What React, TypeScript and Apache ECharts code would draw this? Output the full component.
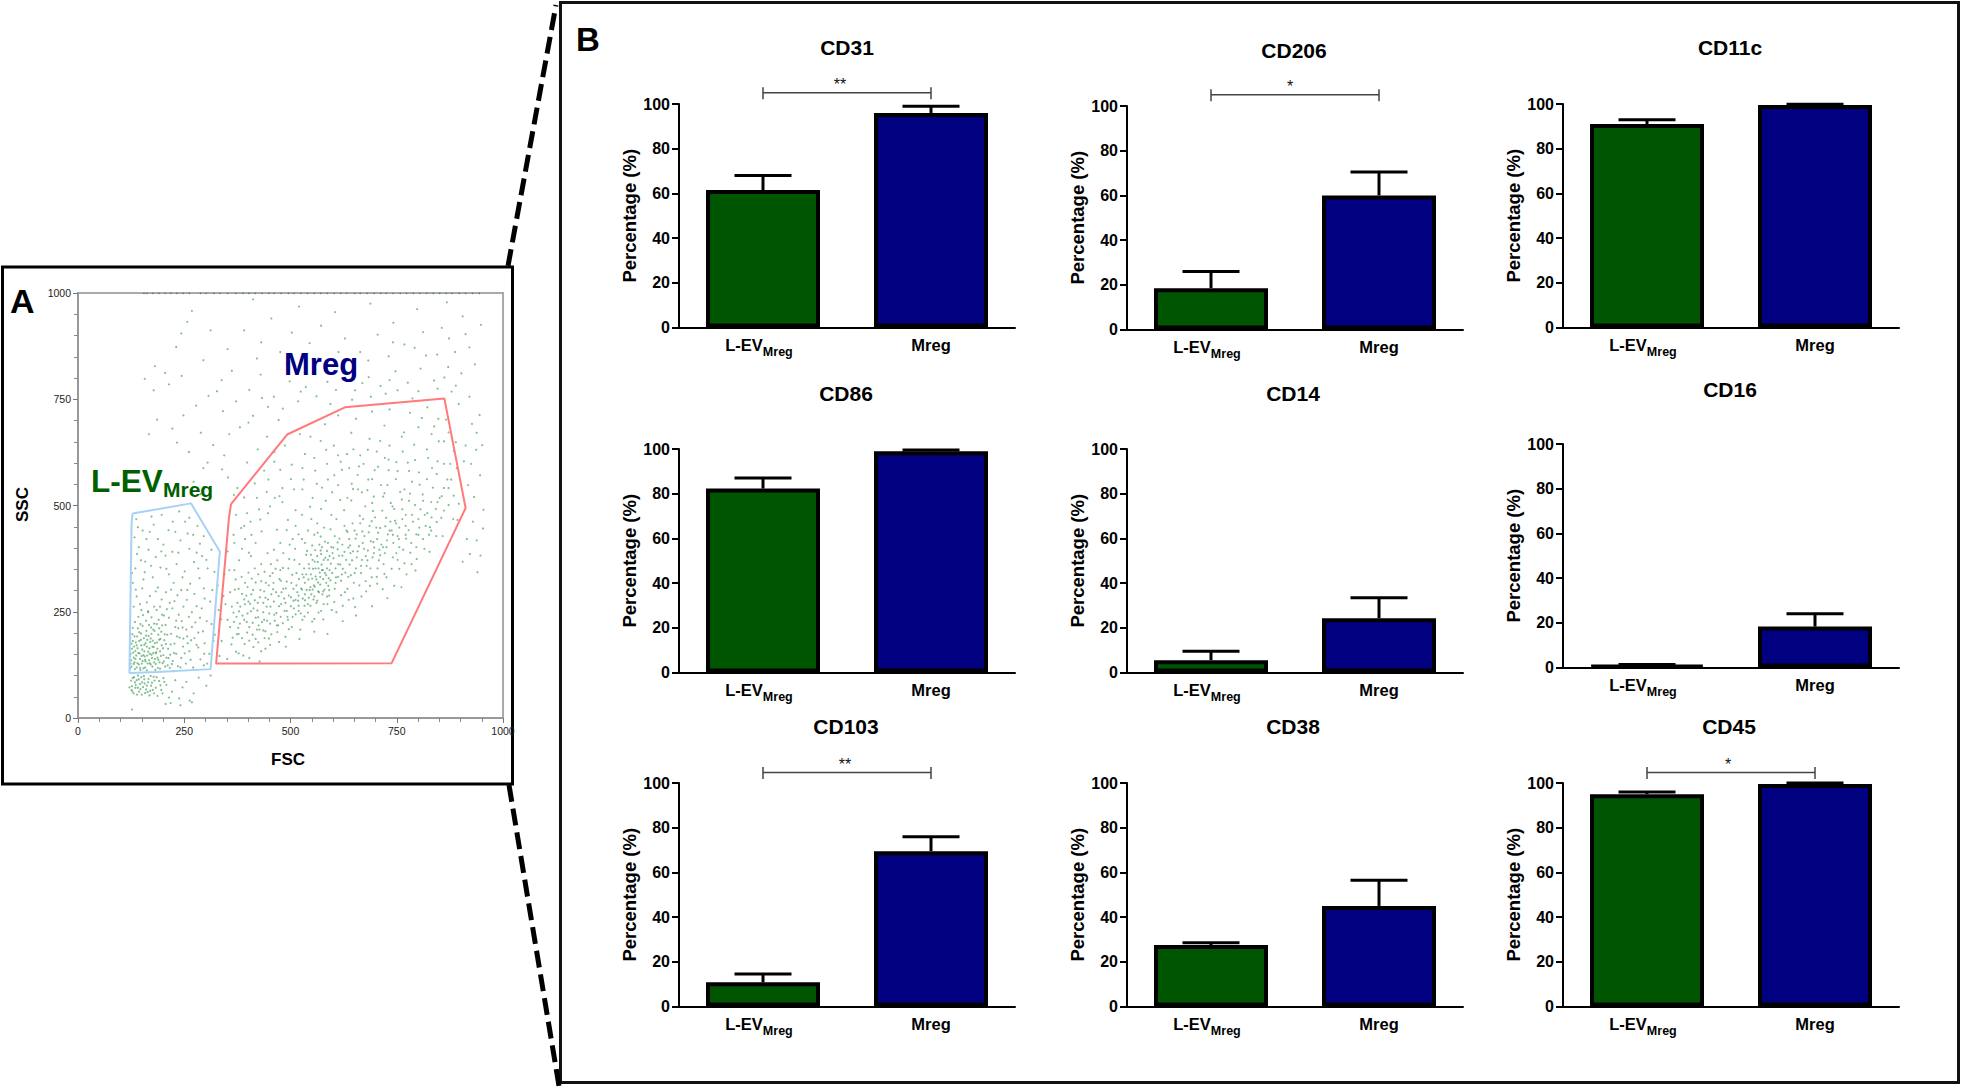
import React, { useEffect, useRef } from "react";
import * as echarts from "echarts";

// ---- Panel B values ----
const categories = ["L-EVMreg", "Mreg"];
const markers = ["CD31", "CD206", "CD11c", "CD86", "CD14", "CD16", "CD103", "CD38", "CD45"];
const levMeans = [61.5, 18.5, 91, 82.3, 5.5, 1, 10.8, 27.5, 95];
const levUpper = [68, 26, 93, 87, 9.5, 1.3, 14.5, 28.5, 96];
const mregMeans = [96, 60, 99.5, 99, 24.3, 18.3, 69.5, 45, 99.5];
const mregUpper = [99, 70.5, 99.9, 99.6, 33.5, 24, 76, 56.5, 100];
const significance = ["**", "*", "", "", "", "", "**", "", "*"];
const bracketLevels = [105, 105, 0, 0, 0, 0, 104.7, 0, 104.7];

// ---- Panel A: gates and a hand-read sample of the dots (FSC, SSC) ----
const mregGate = [[360,503],[492,667],[628,731],[862,752],[912,494],[738,129],[325,128],[355,469],[360,503]];
const levGate = [[128,481],[266,505],[334,391],[332,371],[312,115],[185,108],[121,106],[126,458],[128,481]];

const topBandDots = [[155,999],[162,999],[176,999],[190,999],[205,999],[218,999],[232,999],[247,999],[262,999],[288,999],[301,999],[320,999],[334,999],[352,999],[371,999],[388,999],[402,999],[417,999],[433,999],[449,999],[461,999],[478,999],[495,999],[508,999],[524,999],[540,999],[556,999],[571,999],[586,999],[603,999],[618,999],[632,999],[651,999],[664,999],[680,999],[697,999],[712,999],[725,999],[741,999],[758,999],[773,999],[789,999],[804,999],[820,999],[836,999],[851,999],[866,999],[880,999],[897,999],[912,999],[928,999],[944,999]];

const upperDots = [[268,958],[243,905],[231,873],[257,932],[412,985],[312,912],[455,940],[520,968],[605,955],[688,975],[742,930],[798,962],[868,978],[905,945],[948,925],[157,798],[181,828],[205,812],[178,771],[214,785],[244,805],[295,842],[338,795],[352,868],[391,912],[431,884],[476,861],[503,907],[545,882],[572,923],[628,893],[664,861],[705,902],[731,851],[768,879],[812,908],[845,855],[873,893],[921,872],[934,832],[902,811],[871,826],[838,794],[806,822],[776,789],[747,816],[712,781],[684,802],[652,771],[621,823],[587,791],[553,812],[524,768],[498,792],[461,756],[430,808],[403,772],[372,745],[341,722],[307,758],[278,735],[248,712],[222,681],[186,702],[167,668],[233,648],[261,626],[289,671],[318,642],[305,601],[344,618],[381,684],[412,711],[447,732],[472,701],[518,745],[561,757],[594,739],[645,749],[689,756],[724,763],[752,771],[801,769],[846,775],[889,782],[921,756],[945,713],[938,671],[912,641],[951,642],[925,598],[946,571],[918,548],[932,520],[954,490],[929,462],[938,418],[947,382],[922,386],[915,421],[940,343],[905,368],[288,527],[272,556],[353,566],[339,585],[295,588],[398,601],[375,541],[367,525],[423,632],[445,662],[462,603],[819,853],[887,861],[792,871],[912,903],[856,918],[741,884],[683,841],[613,861],[566,846],[492,833],[421,846],[362,817],[327,769],[433,753],[401,695],[356,668],[482,728],[536,779],[607,772],[669,788],[733,795],[787,752],[862,801],[896,739],[927,692],[908,604],[937,631],[879,768],[953,446]];

const lowClusterDots = [[124,128],[131,142],[127,163],[138,119],[145,152],[136,178],[128,197],[141,211],[152,134],[149,171],[158,119],[155,188],[163,147],[161,205],[171,126],[168,164],[176,182],[174,141],[182,113],[184,155],[189,196],[192,131],[197,171],[201,148],[205,121],[124,151],[126,175],[133,131],[135,158],[139,192],[143,126],[146,139],[148,199],[151,161],[154,117],[157,145],[159,176],[164,128],[166,193],[169,151],[172,213],[175,121],[178,167],[181,139],[186,178],[188,118],[193,157],[196,203],[199,129],[203,183],[208,142],[212,163],[216,118],[219,198],[223,134],[227,175],[231,151],[235,122],[239,189],[243,141],[247,168],[123,189],[129,212],[134,226],[142,238],[147,221],[153,242],[160,229],[165,251],[173,237],[179,222],[185,254],[190,231],[198,243],[206,219],[214,236],[222,258],[229,214],[237,243],[125,136],[130,154],[137,147],[140,164],[144,181],[150,146],[156,157],[162,168],[167,136],[170,179],[177,153],[183,127],[187,142],[194,186],[200,164],[126,121],[132,168],[134,115],[147,113],[159,133],[163,184],[173,198],[180,205],[191,211],[204,197],[211,124],[217,149],[225,110],[254,128],[262,157],[271,119],[279,172],[288,138],[296,124],[257,192],[268,214],[283,201],[298,176],[121,72],[125,88],[128,62],[132,96],[136,78],[139,55],[143,91],[147,68],[151,84],[155,99],[158,59],[162,76],[166,92],[170,64],[174,83],[178,97],[183,71],[187,52],[191,87],[196,66],[201,94],[208,78],[214,48],[221,62],[229,89],[238,46],[246,72],[255,85],[263,41],[272,58],[127,75],[134,84],[141,71],[149,96],[157,81],[164,61],[171,99],[179,58],[206,33],[218,35],[241,30],[127,20],[268,37],[284,95],[302,76],[312,100],[122,146],[123,117],[129,181],[131,127],[133,192],[135,139],[138,171],[140,129],[142,153],[144,202],[146,118],[148,184],[150,128],[152,217],[154,148],[156,172],[158,137],[160,194],[162,112],[165,156],[167,219],[169,129],[171,187],[173,149],[175,168],[177,208],[179,131],[181,176],[183,152],[185,221],[187,163],[189,137],[191,184],[193,116],[195,146],[198,218],[202,133],[207,174],[210,196],[213,141],[218,173],[221,127],[226,153],[233,192],[241,119],[246,213],[251,152],[258,176],[265,137],[274,188],[126,66],[129,94],[131,58],[135,71],[138,89],[141,100],[144,62],[146,80],[150,55],[153,73],[156,91],[160,67],[165,84],[168,53],[172,76],[176,66],[180,88],[185,96],[194,77],[199,58],[203,85]];

const levUpperDots = [[137,468],[152,441],[143,402],[161,421],[178,455],[197,478],[213,442],[238,486],[252,462],[271,431],[287,410],[262,398],[241,418],[222,391],[201,408],[183,379],[166,396],[148,371],[135,352],[157,343],[176,331],[194,354],[214,338],[232,362],[251,345],[273,367],[292,381],[305,352],[286,329],[264,316],[243,301],[225,318],[207,296],[188,307],[169,287],[151,305],[138,286],[131,262],[146,268],[162,272],[179,262],[197,279],[216,271],[234,289],[256,278],[274,292],[296,305],[311,274],[291,258],[268,249],[248,262],[227,275],[209,256],[321,344],[316,301],[303,228],[287,236],[319,182],[309,151],[276,225],[261,238],[133,425],[129,318],[173,474],[206,382],[329,312],[331,254],[258,434],[281,452],[223,462],[141,449],[169,438],[188,421],[229,438],[262,471],[296,428],[314,396],[139,386],[158,368],[196,392],[236,389],[279,389],[302,372],[127,341],[172,358],[208,351],[246,331],[283,352],[154,326],[183,298],[219,302],[257,301],[298,281],[136,302],[165,249],[202,241],[244,228],[279,263],[314,221],[322,196],[294,204],[255,208],[231,229],[193,262],[149,254],[297,151],[304,128],[283,166],[266,183],[248,187],[236,211]];

const mregEdgeDots = [[372,478],[391,519],[416,552],[438,582],[462,626],[487,641],[522,668],[547,662],[581,691],[612,712],[654,704],[692,721],[733,726],[781,718],[822,731],[848,704],[872,672],[884,628],[861,651],[832,668],[801,684],[762,662],[721,688],[686,657],[643,671],[602,641],[571,652],[534,621],[503,596],[476,584],[448,561],[421,518],[398,482],[384,447],[366,431],[352,392],[345,338],[342,287],[337,232],[338,181],[333,146],[351,139],[378,152],[403,141],[431,157],[452,172],[427,133],[489,168],[521,186],[556,203],[587,198],[623,228],[654,241],[692,263],[728,282],[761,308],[794,347],[827,391],[858,428],[883,468],[896,504],[872,541],[891,588],[844,574],[851,518],[832,472],[803,448],[784,412],[812,511],[821,562],[793,607],[764,627],[731,608],[703,627],[672,598],[648,632],[618,603],[586,598],[558,582],[531,561],[508,538],[474,522],[452,498],[429,467],[408,431],[386,398],[368,348],[358,296],[366,248],[378,198],[392,174],[418,186],[441,204],[468,218],[494,231]];

const mregCoreDots = [[382,262],[391,231],[396,288],[403,214],[407,251],[412,301],[418,236],[423,271],[427,208],[431,322],[436,249],[441,283],[445,229],[449,312],[453,262],[458,341],[462,243],[466,296],[471,218],[474,327],[478,268],[482,353],[486,252],[489,305],[493,238],[497,374],[501,284],[504,337],[508,258],[511,398],[514,312],[518,276],[521,362],[524,246],[527,421],[531,331],[534,291],[537,384],[541,268],[544,352],[547,308],[551,406],[554,279],[557,368],[561,326],[564,436],[567,296],[571,394],[574,348],[578,268],[581,415],[584,318],[588,372],[591,288],[594,444],[598,341],[601,401],[604,304],[608,468],[612,362],[615,422],[619,323],[622,382],[626,489],[629,342],[632,441],[636,401],[639,361],[643,512],[646,458],[649,318],[653,422],[656,378],[659,538],[663,476],[666,341],[669,439],[673,398],[676,498],[679,358],[683,561],[686,452],[689,416],[693,378],[696,521],[699,472],[703,332],[706,436],[709,396],[713,548],[716,488],[719,362],[723,451],[727,418],[731,583],[736,506],[741,378],[746,464],[752,428],[758,532],[765,396],[771,478],[778,442],[786,556],[793,501],[801,468],[811,526],[822,482],[835,542],[542,326],[548,338],[553,351],[559,333],[565,319],[569,342],[573,361],[577,327],[552,372],[558,395],[563,381],[568,408],[572,386],[576,348],[582,377],[586,352],[590,329],[595,363],[599,388],[525,305],[529,281],[534,318],[538,301],[543,283],[547,264],[552,302],[556,286],[561,271],[565,298],[570,314],[575,291],[580,302],[584,336],[589,311],[594,324],[532,352],[528,338],[520,327],[516,296],[512,278],[507,304],[501,263],[496,288],[491,321],[485,281],[479,296],[473,263],[467,247],[461,274],[455,291],[450,246],[444,262],[438,298],[433,226],[428,284],[422,253],[416,277],[411,224],[405,269],[399,246],[393,268],[387,241],[381,222],[375,271],[369,302],[373,238],[362,262],[358,214],[364,189],[377,212],[386,188],[398,201],[411,196],[425,218],[439,188],[452,222],[469,202],[482,223],[496,209],[512,244],[528,231],[541,248],[556,233],[572,252],[587,268],[603,273],[619,289],[634,304],[648,281],[662,312],[677,322],[691,331],[705,352],[721,339],[738,351],[752,372],[768,364],[782,389],[796,402],[812,421],[828,449],[844,461],[861,488],[642,336],[628,296],[612,332],[606,352],[614,382],[622,408],[631,372],[638,421],[647,392],[654,352],[661,404],[668,372],[674,428],[682,394],[688,352],[695,414],[702,448],[708,371],[714,408],[722,388],[729,432],[735,462],[742,412],[749,388],[756,448],[763,491],[772,422],[779,511],[788,462],[796,432],[806,491],[818,452],[831,508],[842,492],[856,522],[869,561],[604,428],[596,478],[588,412],[579,448],[572,492],[563,458],[556,431],[549,468],[541,441],[534,412],[527,478],[519,432],[512,452],[505,421],[498,408],[491,442],[483,388],[476,412],[469,371],[461,396],[454,362],[446,388],[439,344],[431,362],[424,338],[416,352],[409,328],[401,342],[393,318],[385,332],[378,304],[371,326],[612,548],[634,518],[658,572],[681,536],[706,591],[728,548],[752,581],[776,601],[802,578],[824,612],[846,604],[598,531],[574,542],[552,518],[588,561],[621,584],[644,551],[668,531],[692,506],[718,521],[744,492],[768,538]];

const mregSpreadDots = [[352,231],[361,173],[347,268],[372,156],[389,147],[356,348],[368,412],[379,371],[391,452],[402,389],[413,167],[399,308],[418,412],[424,178],[432,439],[407,381],[441,163],[447,482],[455,197],[460,318],[438,231],[473,179],[468,443],[481,508],[476,348],[488,191],[494,466],[503,214],[509,372],[512,489],[523,208],[519,252],[528,538],[533,239],[539,393],[546,497],[551,227],[557,309],[562,551],[566,248],[571,427],[577,232],[583,511],[586,286],[592,381],[597,254],[603,571],[608,249],[611,397],[617,513],[623,264],[627,452],[633,621],[637,278],[641,388],[647,539],[652,261],[656,432],[661,592],[667,286],[671,468],[678,298],[682,631],[687,311],[694,487],[698,583],[704,316],[711,652],[717,303],[721,529],[726,331],[733,641],[738,441],[744,311],[749,602],[756,351],[762,514],[767,672],[773,338],[779,581],[785,362],[791,643],[797,374],[804,549],[809,706],[815,398],[821,632],[826,431],[833,588],[838,686],[843,428],[849,651],[855,471],[861,598],[866,702],[872,501],[878,561],[884,523],[889,649],[893,466],[545,301],[551,328],[537,338],[543,362],[559,352],[564,367],[555,312],[570,332],[548,384],[574,402],[566,352],[581,341],[586,393],[592,348],[578,372],[596,402],[601,376],[607,331],[611,413],[617,361],[623,351],[627,391],[634,438],[640,406],[645,371],[651,441],[658,392],[664,458],[670,412],[677,381],[684,437],[691,463],[697,401],[704,421],[711,447],[718,402],[725,471],[733,441],[740,498],[748,458],[755,421],[763,468],[771,452],[533,264],[527,302],[519,288],[514,341],[507,276],[502,318],[495,352],[488,271],[483,304],[477,323],[472,287],[465,351],[459,303],[452,334],[447,279],[442,318],[436,271],[429,301],[424,237],[418,319],[413,258],[408,291],[401,274],[397,226],[391,279],[386,292],[379,251],[374,197],[367,226],[403,182],[421,208],[436,206],[449,187],[463,229],[477,238],[491,252],[505,238],[519,264],[534,277],[549,291],[563,276],[577,298],[591,301],[606,318],[621,338],[636,332],[651,341],[666,358],[681,371],[696,388],[711,383],[726,402],[741,431],[756,402],[771,431],[786,478],[801,431],[816,478],[831,441],[846,508],[861,541],[876,598],[781,528],[748,562],[722,612],[692,562],[664,618],[638,588],[612,618],[584,631],[556,612],[528,588],[501,562],[481,541],[463,518],[444,532],[426,491],[406,462],[393,421]];

// ---- Fixed layout of the figure, in page pixels ----
const panelLefts = [679, 1127, 1563, 679, 1127, 1563, 679, 1127, 1563];
const panelTops = [104, 106, 104, 449, 449, 444, 783, 783, 783];
const panelHeight = 223.5;
const panelWidth = 336;
const titleCenters = [847, 1294, 1730, 846, 1293, 1730, 846, 1293, 1729];
const titleTops = [37, 39.5, 37, 382.5, 382.5, 378.5, 716, 716, 716];
const starOffsets = [-7, -5, 0, 0, 0, 0, -2, 0, -3];

const FONT = '"Liberation Sans", Arial, sans-serif';
const GREEN = "#005500";
const NAVY = "#000080";

function errorBarRender(_: any, api: any) {
  const x = api.value(0);
  const base = api.coord([x, api.value(1)]);
  const top = api.coord([x, api.value(2)]);
  const style = { stroke: "#000", lineWidth: 3 };
  return {
    type: "group",
    children: [
      { type: "line", shape: { x1: base[0], y1: base[1], x2: top[0], y2: top[1] }, style },
      { type: "line", shape: { x1: top[0] - 28.5, y1: top[1], x2: top[0] + 28.5, y2: top[1] }, style },
    ],
  };
}

function bracketRender(stars: string, offset: number) {
  return (_: any, api: any) => {
    const level = api.value(2);
    const a = api.coord([api.value(0), level]);
    const b = api.coord([api.value(1), level]);
    const style = { stroke: "#444", lineWidth: 1.5 };
    return {
      type: "group",
      children: [
        { type: "line", shape: { x1: a[0], y1: a[1], x2: b[0], y2: b[1] }, style },
        { type: "line", shape: { x1: a[0], y1: a[1] - 5.5, x2: a[0], y2: a[1] + 6.5 }, style },
        { type: "line", shape: { x1: b[0], y1: b[1] - 5.5, x2: b[0], y2: b[1] + 6.5 }, style },
        {
          type: "text",
          style: {
            text: stars,
            x: (a[0] + b[0]) / 2 + offset,
            y: a[1] - 16,
            align: "center",
            verticalAlign: "top",
            font: `16px ${FONT}`,
            fill: "#111",
          },
        },
      ],
    };
  };
}

function buildOption() {
  const grid: any[] = [
    { left: 78, top: 293, width: 425, height: 425, show: true, borderColor: "#aaaaaa", borderWidth: 2, backgroundColor: "#fff" },
  ];
  const flowAxis = {
    type: "value",
    min: 0,
    max: 1000,
    interval: 250,
    axisLine: { show: true, onZero: false, lineStyle: { color: "#999", width: 2 } },
    axisTick: { show: true, length: 5, lineStyle: { color: "#777", width: 1 } },
    minorTick: { show: true, splitNumber: 5, length: 4, lineStyle: { color: "#888", width: 1 } },
    splitLine: { show: false },
    minorSplitLine: { show: false },
    axisLabel: { color: "#222", fontSize: 10.5, fontFamily: FONT, margin: 7, showMinLabel: true, showMaxLabel: true, formatter: (v: number) => String(v) },
  };
  const xAxis: any[] = [{ ...flowAxis, gridIndex: 0 }];
  const yAxis: any[] = [{ ...flowAxis, gridIndex: 0 }];

  const dots = [topBandDots, upperDots, lowClusterDots, levUpperDots, mregEdgeDots, mregCoreDots, mregSpreadDots];
  const series: any[] = dots.map((d, i) => ({
    type: "scatter",
    name: `dots${i}`,
    xAxisIndex: 0,
    yAxisIndex: 0,
    data: d,
    symbolSize: i === 0 ? 1.6 : 2.2,
    silent: true,
    itemStyle: { color: i === 0 ? "#2f6f3a" : "#1f8a3a", opacity: i === 0 ? 0.7 : 0.55 },
  }));
  series.push(
    { type: "line", xAxisIndex: 0, yAxisIndex: 0, data: mregGate, showSymbol: false, silent: true, z: 5, lineStyle: { color: "#ff7a7a", width: 2 } },
    { type: "line", xAxisIndex: 0, yAxisIndex: 0, data: levGate, showSymbol: false, silent: true, z: 5, lineStyle: { color: "#a6d2f7", width: 2 } },
  );

  const title = markers.map((m, i) => ({
    text: m,
    left: titleCenters[i],
    top: titleTops[i],
    textAlign: "center",
    padding: 0,
    textStyle: { fontFamily: FONT, fontWeight: "bold", fontSize: 21, color: "#000" },
  }));

  markers.forEach((_, i) => {
    const idx = i + 1;
    grid.push({ left: panelLefts[i], top: panelTops[i], width: panelWidth, height: panelHeight });
    xAxis.push({
      type: "category",
      gridIndex: idx,
      data: categories,
      axisLine: { lineStyle: { color: "#000", width: 2 } },
      axisTick: { alignWithLabel: true, length: 7, lineStyle: { color: "#000", width: 2 } },
      axisLabel: {
        margin: 9,
        interval: 0,
        formatter: (v: string) => (v === "Mreg" ? "{m|Mreg}" : "{l|L-EV}{s|Mreg}"),
        rich: {
          m: { fontFamily: FONT, fontWeight: "bold", fontSize: 16.5, color: "#000", lineHeight: 22, verticalAlign: "top" },
          l: { fontFamily: FONT, fontWeight: "bold", fontSize: 16.5, color: "#000", lineHeight: 22, verticalAlign: "top" },
          s: { fontFamily: FONT, fontWeight: "bold", fontSize: 12.5, color: "#000", lineHeight: 20, verticalAlign: "bottom", padding: [0, 8, 0, 0] },
        },
      },
    });
    yAxis.push({
      type: "value",
      gridIndex: idx,
      min: 0,
      max: 100,
      interval: 20,
      name: "Percentage (%)",
      nameLocation: "middle",
      nameGap: 39,
      nameTextStyle: { fontFamily: FONT, fontWeight: "bold", fontSize: 18.5, color: "#000" },
      axisLine: { show: true, lineStyle: { color: "#000", width: 2 } },
      axisTick: { show: true, length: 7, lineStyle: { color: "#000", width: 2 } },
      splitLine: { show: false },
      axisLabel: { fontFamily: FONT, fontWeight: "bold", fontSize: 16, color: "#000", margin: 9 },
    });
    series.push({
      type: "custom",
      xAxisIndex: idx,
      yAxisIndex: idx,
      renderItem: errorBarRender,
      encode: { x: 0, y: 1 },
      data: [
        [0, levMeans[i], levUpper[i]],
        [1, mregMeans[i], mregUpper[i]],
      ],
      z: 1,
      silent: true,
    });
    series.push({
      type: "bar",
      xAxisIndex: idx,
      yAxisIndex: idx,
      barWidth: 114,
      z: 2,
      silent: true,
      data: [
        { value: levMeans[i], itemStyle: { color: GREEN, borderColor: "#000", borderWidth: 4 } },
        { value: mregMeans[i], itemStyle: { color: NAVY, borderColor: "#000", borderWidth: 4 } },
      ],
    });
    if (significance[i]) {
      series.push({
        type: "custom",
        xAxisIndex: idx,
        yAxisIndex: idx,
        renderItem: bracketRender(significance[i], starOffsets[i]),
        encode: { x: 0, y: 2 },
        clip: false,
        data: [[0, 1, bracketLevels[i]]],
        z: 3,
        silent: true,
      });
    }
  });

  const textStyle = (text: string, x: number, y: number, size: number, fill: string, extra: any = {}) => ({
    type: "text",
    x,
    y,
    z: 20,
    style: { text, x: 0, y: 0, font: `bold ${size}px ${FONT}`, fill, align: "left", verticalAlign: "top", ...extra },
  });

  const graphic = [
    { type: "rect", z: -1, shape: { x: 2.5, y: 267, width: 510, height: 517 }, style: { fill: "none", stroke: "#000", lineWidth: 3 } },
    { type: "rect", z: -1, shape: { x: 560.5, y: 2.5, width: 1398, height: 1080 }, style: { fill: "none", stroke: "#111", lineWidth: 3 } },
    { type: "line", z: 1, shape: { x1: 508, y1: 266, x2: 556, y2: 5 }, style: { stroke: "#000", lineWidth: 5, lineDash: [17, 7] } },
    { type: "line", z: 1, shape: { x1: 509, y1: 785, x2: 559, y2: 1086 }, style: { stroke: "#000", lineWidth: 5, lineDash: [17, 7] } },
    textStyle("A", 10, 284, 34, "#000"),
    textStyle("B", 576, 23, 33, "#000"),
    textStyle("Mreg", 284, 349, 31, NAVY),
    textStyle("L-EV", 91, 465, 31.5, "#006000"),
    textStyle("Mreg", 163, 479, 21, "#006000"),
    textStyle("FSC", 271, 751, 17, "#000"),
    { ...textStyle("SSC", 0, 0, 17, "#000"), x: 14, y: 522, rotation: Math.PI / 2 },
  ];

  return { animation: false, backgroundColor: "#fff", title, grid, xAxis, yAxis, series, graphic };
}

export default function App() {
  const ref = useRef<HTMLDivElement>(null);
  useEffect(() => {
    const chart = echarts.init(ref.current!, undefined, { renderer: "svg" });
    chart.setOption(buildOption() as any);
    return () => chart.dispose();
  }, []);
  return <div ref={ref} style={{ position: "absolute", left: 0, top: 0, width: 1961, height: 1087 }} />;
}
